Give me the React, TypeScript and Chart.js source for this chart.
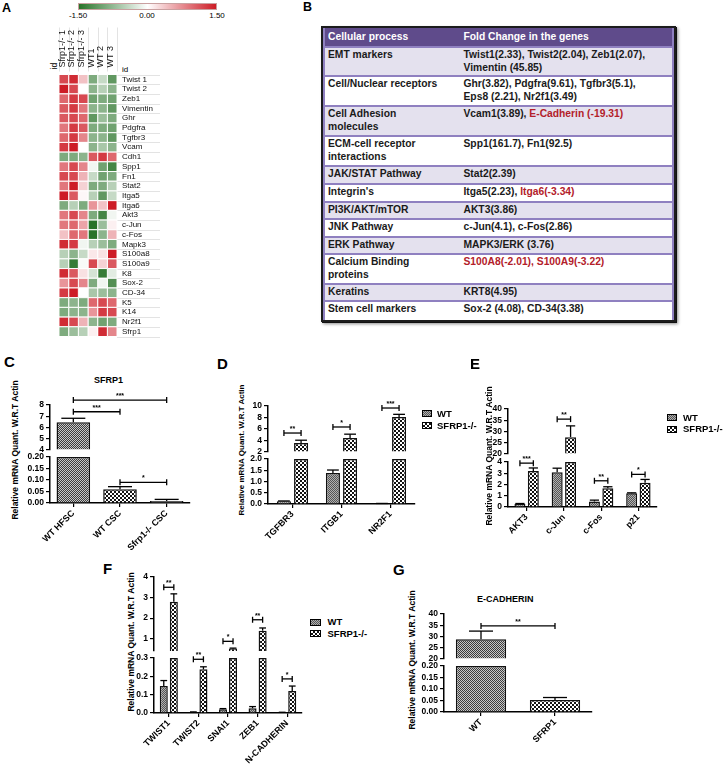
import React, { useEffect, useRef } from 'react';
import { Chart, registerables } from 'chart.js';

Chart.register(...registerables);

const FONT = '"Liberation Sans", Arial, Helvetica, sans-serif';
Chart.defaults.font.family = FONT;
Chart.defaults.color = '#000';

// ---------------- Panel A: heatmap ----------------
const genes = ['Twist 1', 'Twist 2', 'Zeb1', 'Vimentin', 'Ghr', 'Pdgfra', 'Tgfbr3', 'Vcam', 'Cdh1', 'Spp1', 'Fn1', 'Stat2', 'Itga5', 'Itga6', 'Akt3', 'c-Jun', 'c-Fos', 'Mapk3', 'S100a8', 'S100a9', 'K8', 'Sox-2', 'CD-34', 'K5', 'K14', 'Nr2f1', 'Sfrp1'];
const samples = ['Sfrp1-/- 1', 'Sfrp1-/- 2', 'Sfrp1-/- 3', 'WT1', 'WT 2', 'WT 3'];
const ko1 = [1.2, 1.5, 1.0, 1.1, 1.1, 0.9, 1.0, 1.3, -0.9, 0.9, 1.2, 0.9, 1.5, -0.9, 0.9, 0.9, 0.4, 1.4, -0.5, -0.5, 1.4, 0.7, 1.3, -0.9, -0.9, 1.4, -0.9];
const ko2 = [1.4, 1.2, 1.3, 1.3, 1.2, 1.3, 1.3, 1.5, -0.9, 1.2, 1.2, 1.5, 1.1, -0.5, 1.2, 1.0, 1.0, 1.3, -0.8, -1.4, 1.1, 1.2, 1.5, -0.8, -0.8, 1.2, -0.7];
const ko3 = [0.4, 0.0, 1.2, 0.9, 1.0, 1.1, 0.8, 0.0, -0.8, 0.8, 0.5, 0.3, 0.05, -0.9, 0.8, 0.6, 0.9, -0.1, -0.4, -0.05, 0.2, 0.8, 0.0, -0.9, -0.8, 0.5, -0.5];
const wt1 = [-0.9, -0.8, -1.0, -0.8, -1.1, -0.9, -0.8, -0.8, 1.1, -0.1, -0.4, -0.9, -0.5, 0.7, -0.9, -1.5, -1.5, -0.5, 0.15, 1.2, -0.3, -0.9, -0.6, 1.0, 0.7, -0.8, 0.1];
const wt2 = [-0.4, -0.5, -0.9, -0.8, -0.7, -0.9, -0.8, -0.6, 1.3, -1.0, -1.0, -0.9, -1.1, 0.4, -1.3, -0.7, -0.8, -0.7, 0.2, 0.3, -1.4, -0.1, -0.7, 1.2, 1.3, -1.0, 1.4];
const wt3 = [-1.1, -0.8, -1.0, -1.1, -0.9, -1.0, -1.1, -0.8, 1.0, -1.3, -0.9, -0.5, -0.4, 1.5, -0.1, 0.1, 0.5, -0.9, 1.5, 1.1, -0.2, -1.2, -0.8, 1.0, 1.2, -0.9, 0.8];
const heatColumns = [ko1, ko2, ko3, wt1, wt2, wt3];
const colorMax = 1.5;
const colorbarLabels = ['-1.50', '0.00', '1.50'];

// ---------------- Panel B: table ----------------
const tableHeader = ['Cellular process', 'Fold Change in the genes'];
const tableProcesses = ['EMT markers', 'Cell/Nuclear receptors', 'Cell Adhesion\nmolecules', 'ECM-cell receptor\ninteractions', 'JAK/STAT Pathway', "Integrin's", 'PI3K/AKT/mTOR', 'JNK Pathway', 'ERK Pathway', 'Calcium Binding\nproteins', 'Keratins', 'Stem cell markers'];
const tableChanges: [string, boolean][][] = [
  [['Twist1(2.33), Twist2(2.04), Zeb1(2.07),\nVimentin (45.85)', false]],
  [['Ghr(3.82), Pdgfra(9.61), Tgfbr3(5.1),\nEps8 (2.21), Nr2f1(3.49)', false]],
  [['Vcam1(3.89), ', false], ['E-Cadherin (-19.31)', true]],
  [['Spp1(161.7), Fn1(92.5)', false]],
  [['Stat2(2.39)', false]],
  [['Itga5(2.23), ', false], ['Itga6(-3.34)', true]],
  [['AKT3(3.86)', false]],
  [['c-Jun(4.1), c-Fos(2.86)', false]],
  [['MAPK3/ERK (3.76)', false]],
  [['S100A8(-2.01), S100A9(-3.22)', true]],
  [['KRT8(4.95)', false]],
  [['Sox-2 (4.08), CD-34(3.38)', false]],
];
const tableRowHeights = [19.7, 29.3, 30, 30, 30, 18, 17.7, 17.3, 17.7, 17.3, 30, 17, 17.3];

// ---------------- Panel C ----------------
const cCategories = ['WT HFSC', 'WT CSC', 'Sfrp1-/- CSC'];
const cValues = [6.46, 0.06, 0.0087];
const cErrors = [0.36, 0.011, 0.007];
const cTopTicks = [4, 5, 6, 7, 8];
const cBottomTicks = [0, 0.05, 0.1, 0.15, 0.2];

// ---------------- Panel D ----------------
const dGenes = ['TGFBR3', 'ITGB1', 'NR2F1'];
const dWT = [0.12, 1.38, 0.02];
const dWTErr = [0.015, 0.13, 0.005];
const dKO = [3.55, 4.45, 8.1];
const dKOErr = [0.5, 0.65, 0.45];
const dTopTicks = [2, 4, 6, 8, 10];
const dBottomTicks = [0, 0.5, 1, 1.5, 2];

// ---------------- Panel E ----------------
const eGenes = ['AKT3', 'c-Jun', 'c-Fos', 'p21'];
const eWT = [0.26, 3.1, 0.49, 1.23];
const eWTErr = [0.05, 0.35, 0.12, 0.03];
const eKO = [3.2, 27.5, 1.67, 2.16];
const eKOErr = [0.27, 5.0, 0.13, 0.29];
const eTopTicks = [20, 25, 30, 35, 40];
const eBottomTicks = [0, 1, 2, 3, 4];

// ---------------- Panel F ----------------
const fGenes = ['TWIST1', 'TWIST2', 'SNAI1', 'ZEB1', 'N-CADHERIN'];
const fWT = [0.147, 0.004, 0.02, 0.026, 0.003];
const fWTErr = [0.03, 0.002, 0.004, 0.009, 0.001];
const fKO = [2.8, 0.238, 0.52, 1.39, 0.12];
const fKOErr = [0.38, 0.014, 0.02, 0.13, 0.027];
const fTopTicks = [1, 2, 3, 4];
const fBottomTicks = [0, 0.1, 0.2, 0.3];

// ---------------- Panel G ----------------
const gGroups = ['WT', 'SFRP1'];
const gValues = [28.8, 0.052];
const gErrors = [3.6, 0.011];
const gTopTicks = [20, 25, 30, 35, 40];
const gBottomTicks = [0, 0.05, 0.1, 0.15, 0.2];

// ---------------- helpers ----------------
function heatColor(v: number) {
  const t = Math.max(-1, Math.min(1, v / colorMax));
  const end = t < 0 ? [40, 115, 40] : [205, 28, 38];
  const a = Math.abs(t);
  const c = end.map((e) => Math.round(255 + (e - 255) * a));
  return `rgb(${c[0]},${c[1]},${c[2]})`;
}

type Pats = { fine: CanvasPattern; medium: CanvasPattern; wt: CanvasPattern; ko: CanvasPattern };
let patCache: Pats | null = null;
function checker(cell: number, dark: string, light: string) {
  const c = document.createElement('canvas');
  c.width = c.height = cell * 2;
  const x = c.getContext('2d')!;
  x.fillStyle = light;
  x.fillRect(0, 0, cell * 2, cell * 2);
  x.fillStyle = dark;
  x.fillRect(0, 0, cell, cell);
  x.fillRect(cell, cell, cell, cell);
  return x.createPattern(c, 'repeat')!;
}
function getPatterns(): Pats {
  if (!patCache) {
    patCache = {
      fine: checker(1, '#3c3c3c', '#c8c8c8'),
      medium: checker(2, '#151515', '#ffffff'),
      wt: checker(1, '#555555', '#b0b0b0'),
      ko: checker(2, '#111111', '#ffffff'),
    };
  }
  return patCache;
}

type Seg = { min: number; max: number; ticks: number[]; dec: number; weight: number };
type Series = { label: string; values: number[]; errors: number[]; fill: (p: Pats) => any };
type Bracket = { a: [number, number]; b: [number, number]; y: number; label: string };
type Panel = {
  categories: string[];
  series: Series[];
  top: Seg;
  bot: Seg;
  gap: number;
  pad: { left: number; top: number; right: number; bottom: number };
  yW: number;
  xH: number;
  catPct: number;
  barPct: number;
  brackets: Bracket[];
};

function buildBroken(canvas: HTMLCanvasElement, p: Panel) {
  const P = getPatterns();
  const datasets: any[] = [];
  p.series.forEach((s, si) => {
    const common = {
      label: s.label,
      stack: 's' + si,
      backgroundColor: s.fill(P),
      borderColor: '#111',
      borderWidth: 1.5,
      categoryPercentage: p.catPct,
      barPercentage: p.barPct,
    };
    datasets.push({ ...common, data: s.values.map((v) => (v > p.top.min ? v : null)), yAxisID: 'yTop', base: p.top.min });
    datasets.push({ ...common, data: s.values.map((v) => Math.min(v, p.bot.max)), yAxisID: 'yBot' });
  });

  const tickFont = { size: 8.5, weight: 'bold' as const };
  const yScale = (seg: Seg, w: number) => ({
    type: 'linear',
    position: 'left',
    stack: 'ystack',
    stackWeight: seg.weight,
    weight: w,
    min: seg.min,
    max: seg.max,
    stacked: false,
    afterBuildTicks: (sc: any) => {
      sc.ticks = seg.ticks.map((v) => ({ value: v }));
    },
    afterFit: (sc: any) => {
      sc.width = p.yW;
    },
    ticks: { font: tickFont, color: '#000', padding: 2, autoSkip: false, callback: (v: any) => Number(v).toFixed(seg.dec) },
    grid: { drawOnChartArea: false, drawTicks: true, tickLength: 4, color: '#000', lineWidth: 1.2 },
    border: { display: true, color: '#000', width: 1.5 },
  });

  const annot = {
    id: 'annot',
    afterDatasetsDraw(chart: any) {
      const ctx = chart.ctx as CanvasRenderingContext2D;
      const yT = chart.scales.yTop;
      const yB = chart.scales.yBot;
      const pick = (v: number) => (v > p.top.min ? yT : yB);
      const line = (x1: number, y1: number, x2: number, y2: number) => {
        ctx.beginPath();
        ctx.moveTo(x1, y1);
        ctx.lineTo(x2, y2);
        ctx.stroke();
      };
      ctx.save();
      ctx.strokeStyle = '#000';
      ctx.lineWidth = 1.3;
      p.series.forEach((s, si) => {
        const meta = chart.getDatasetMeta(si * 2 + 1);
        s.values.forEach((v, i) => {
          const e = s.errors[i];
          const bar = meta.data[i];
          if (!bar || !e) return;
          const sc = pick(v);
          const y0 = sc.getPixelForValue(v);
          const y1 = sc.getPixelForValue(v + e);
          const half = Math.min(bar.width * 0.42, 12);
          line(bar.x, y0, bar.x, y1);
          line(bar.x - half, y1, bar.x + half, y1);
        });
      });
      ctx.fillStyle = '#000';
      ctx.font = `bold 7px ${FONT}`;
      ctx.textAlign = 'center';
      ctx.textBaseline = 'bottom';
      p.brackets.forEach((b) => {
        const ba = chart.getDatasetMeta(b.a[1] * 2 + 1).data[b.a[0]];
        const bb = chart.getDatasetMeta(b.b[1] * 2 + 1).data[b.b[0]];
        const sc = pick(b.y);
        const y = sc.getPixelForValue(b.y);
        line(ba.x, y, bb.x, y);
        line(ba.x, y - 3, ba.x, y + 3);
        line(bb.x, y - 3, bb.x, y + 3);
        ctx.fillText(b.label, (ba.x + bb.x) / 2, y - 0.5);
      });
      ctx.restore();
    },
  };

  return new Chart(canvas, {
    type: 'bar',
    data: { labels: p.categories, datasets },
    plugins: [annot],
    options: {
      responsive: false,
      animation: false,
      events: [],
      layout: { padding: p.pad },
      plugins: { legend: { display: false }, tooltip: { enabled: false } },
      scales: {
        x: {
          type: 'category',
          position: 'bottom',
          offset: true,
          grid: { offset: false, drawOnChartArea: false, drawTicks: true, tickLength: 4, color: '#000', lineWidth: 1.2 },
          border: { display: true, color: '#000', width: 1.5 },
          ticks: { font: { size: 9, weight: 'bold' }, color: '#000', minRotation: 45, maxRotation: 45, autoSkip: false, padding: 1 },
          afterFit: (sc: any) => {
            sc.height = p.xH;
          },
        },
        yBot: yScale(p.bot, 1),
        yGap: {
          type: 'linear',
          position: 'left',
          stack: 'ystack',
          stackWeight: p.gap,
          weight: 2,
          min: 0,
          max: 1,
          ticks: { display: false },
          grid: { display: false, drawTicks: false },
          border: { display: false },
          afterFit: (sc: any) => {
            sc.width = p.yW;
          },
        },
        yTop: yScale(p.top, 3),
      } as any,
    },
  } as any);
}

function buildHeatmap(canvas: HTMLCanvasElement) {
  const guides = {
    id: 'guides',
    beforeDatasetsDraw(chart: any) {
      const { ctx, chartArea: ca } = chart;
      const xs = chart.scales.x;
      const cw = (ca.right - ca.left) / samples.length;
      const rh = (ca.bottom - ca.top) / genes.length;
      ctx.save();
      ctx.strokeStyle = '#e3e3e3';
      ctx.lineWidth = 1;
      for (let j = 0; j <= samples.length; j++) {
        const px = Math.round(ca.left + j * cw) + 0.5;
        ctx.beginPath();
        ctx.moveTo(px, ca.top - 47);
        ctx.lineTo(px, ca.top - 3);
        ctx.stroke();
      }
      for (let i = 0; i <= genes.length; i++) {
        const py = Math.round(ca.top + i * rh) + 0.5;
        ctx.beginPath();
        ctx.moveTo(ca.right, py);
        ctx.lineTo(ca.right + 43, py);
        ctx.stroke();
      }
      // column headers (vertical, reading upward) placed on the x scale
      ctx.fillStyle = '#111';
      ctx.font = `9px ${FONT}`;
      ctx.textAlign = 'left';
      ctx.textBaseline = 'middle';
      samples.forEach((s, j) => {
        const x = xs.getPixelForValue(j) - 1.5;
        ctx.save();
        ctx.translate(x, ca.top - 7);
        ctx.rotate(-Math.PI / 2);
        ctx.fillText(s, 0, 0);
        ctx.restore();
      });
      ctx.restore();
    },
  };
  const radius = (c: any) => {
    const ca = c.chart.chartArea;
    if (!ca) return 6;
    return ((ca.bottom - ca.top) / genes.length / 2) * Math.SQRT2;
  };
  const datasets = samples.map((s, j) => ({
    label: s,
    data: genes.map((g, i) => ({ x: s, y: g, v: heatColumns[j][i] })),
    backgroundColor: (c: any) => heatColor(c.raw ? c.raw.v : 0),
    borderColor: '#ffffff',
    borderWidth: 1,
    pointStyle: 'rect',
    pointRadius: radius,
    pointHoverRadius: radius,
    clip: false,
  }));
  return new Chart(canvas, {
    type: 'scatter',
    data: { datasets },
    plugins: [guides],
    options: {
      responsive: false,
      animation: false,
      events: [],
      layout: { padding: { left: 9, top: 6.5, right: 8, bottom: 10.5 } },
      plugins: { legend: { display: false }, tooltip: { enabled: false } },
      scales: {
        x: {
          type: 'category',
          labels: samples,
          position: 'top',
          offset: true,
          grid: { display: false, drawTicks: false },
          border: { display: false },
          ticks: { display: false },
          afterFit: (sc: any) => {
            sc.height = 48;
            sc.paddingLeft = 0;
            sc.paddingRight = 0;
          },
        },
        y: {
          type: 'category',
          labels: genes,
          position: 'right',
          offset: true,
          grid: { display: false, drawTicks: false },
          border: { display: false },
          ticks: { font: { size: 8 }, color: '#111', padding: 5, autoSkip: false },
          afterFit: (sc: any) => {
            sc.width = 50;
            sc.paddingTop = 0;
            sc.paddingBottom = 0;
          },
        },
      } as any,
    },
  } as any);
}

// ---------------- panel configs ----------------
const panelC: Panel = {
  categories: cCategories,
  series: [{ label: 'SFRP1', values: cValues, errors: cErrors, fill: (P) => [P.fine, P.medium, '#8a8a8a'] }],
  top: { min: 4, max: 8, ticks: cTopTicks, dec: 0, weight: 45 },
  bot: { min: 0, max: 0.2, ticks: cBottomTicks, dec: 2, weight: 46 },
  gap: 7,
  pad: { left: 2, top: 20, right: 10, bottom: 2 },
  yW: 28,
  xH: 50,
  catPct: 0.72,
  barPct: 1,
  brackets: [
    { a: [0, 0], b: [2, 0], y: 8.44, label: '***' },
    { a: [0, 0], b: [1, 0], y: 7.4, label: '***' },
    { a: [1, 0], b: [2, 0], y: 0.09, label: '*' },
  ],
};

const panelD: Panel = {
  categories: dGenes,
  series: [
    { label: 'WT', values: dWT, errors: dWTErr, fill: (P) => P.wt },
    { label: 'SFRP1-/-', values: dKO, errors: dKOErr, fill: (P) => P.ko },
  ],
  top: { min: 2, max: 10, ticks: dTopTicks, dec: 0, weight: 46 },
  bot: { min: 0, max: 2, ticks: dBottomTicks, dec: 1, weight: 45 },
  gap: 7,
  pad: { left: 2, top: 12, right: 8, bottom: 2 },
  yW: 28,
  xH: 42,
  catPct: 0.7,
  barPct: 0.82,
  brackets: [
    { a: [0, 0], b: [0, 1], y: 5.3, label: '**' },
    { a: [1, 0], b: [1, 1], y: 6.35, label: '*' },
    { a: [2, 0], b: [2, 1], y: 9.65, label: '***' },
  ],
};

const panelE: Panel = {
  categories: eGenes,
  series: [
    { label: 'WT', values: eWT, errors: eWTErr, fill: (P) => P.wt },
    { label: 'SFRP1-/-', values: eKO, errors: eKOErr, fill: (P) => P.ko },
  ],
  top: { min: 20, max: 40, ticks: eTopTicks, dec: 0, weight: 45 },
  bot: { min: 0, max: 4, ticks: eBottomTicks, dec: 0, weight: 45 },
  gap: 8,
  pad: { left: 2, top: 12, right: 8, bottom: 2 },
  yW: 28,
  xH: 42,
  catPct: 0.72,
  barPct: 0.82,
  brackets: [
    { a: [0, 0], b: [0, 1], y: 3.9, label: '***' },
    { a: [1, 0], b: [1, 1], y: 35.5, label: '**' },
    { a: [2, 0], b: [2, 1], y: 2.33, label: '**' },
    { a: [3, 0], b: [3, 1], y: 2.9, label: '*' },
  ],
};

const panelF: Panel = {
  categories: fGenes,
  series: [
    { label: 'WT', values: fWT, errors: fWTErr, fill: (P) => P.wt },
    { label: 'SFRP1-/-', values: fKO, errors: fKOErr, fill: (P) => P.ko },
  ],
  top: { min: 0.4, max: 4, ticks: fTopTicks, dec: 0, weight: 74 },
  bot: { min: 0, max: 0.3, ticks: fBottomTicks, dec: 1, weight: 55 },
  gap: 7,
  pad: { left: 2, top: 12, right: 8, bottom: 2 },
  yW: 28,
  xH: 52,
  catPct: 0.68,
  barPct: 0.8,
  brackets: [
    { a: [0, 0], b: [0, 1], y: 3.5, label: '**' },
    { a: [1, 0], b: [1, 1], y: 0.293, label: '**' },
    { a: [2, 0], b: [2, 1], y: 0.87, label: '*' },
    { a: [3, 0], b: [3, 1], y: 1.92, label: '**' },
    { a: [4, 0], b: [4, 1], y: 0.186, label: '*' },
  ],
};

const panelG: Panel = {
  categories: gGroups,
  series: [{ label: 'E-CADHERIN', values: gValues, errors: gErrors, fill: (P) => [P.fine, P.medium] }],
  top: { min: 20, max: 40, ticks: gTopTicks, dec: 0, weight: 45 },
  bot: { min: 0, max: 0.2, ticks: gBottomTicks, dec: 2, weight: 46 },
  gap: 7,
  pad: { left: 2, top: 12, right: 8, bottom: 2 },
  yW: 28,
  xH: 36,
  catPct: 0.68,
  barPct: 1,
  brackets: [{ a: [0, 0], b: [1, 0], y: 34.7, label: '**' }],
};

// ---------------- components ----------------
function ChartBox({ left, top, width, height, build }: { left: number; top: number; width: number; height: number; build: (c: HTMLCanvasElement) => Chart }) {
  const ref = useRef<HTMLCanvasElement>(null);
  useEffect(() => {
    const chart = build(ref.current!);
    return () => chart.destroy();
  }, []);
  return <canvas ref={ref} width={width} height={height} style={{ position: 'absolute', left, top, width, height }} />;
}

const base: React.CSSProperties = { position: 'absolute', fontFamily: FONT, lineHeight: 1, whiteSpace: 'nowrap', margin: 0, color: '#000' };

function Letter({ x, capTop, size, children }: any) {
  return <div style={{ ...base, left: x, top: capTop - 0.13 * size, fontSize: size, fontWeight: 'bold' }}>{children}</div>;
}
function CenterText({ cx, capTop, size, bold = true, children }: any) {
  return <div style={{ ...base, left: cx, top: capTop - 0.13 * size, fontSize: size, fontWeight: bold ? 'bold' : 'normal', transform: 'translateX(-50%)' }}>{children}</div>;
}
function VText({ cx, cy, size, bold = true, children }: any) {
  return <div style={{ ...base, left: cx, top: cy, fontSize: size, fontWeight: bold ? 'bold' : 'normal', transform: 'translate(-50%,-50%) rotate(-90deg)' }}>{children}</div>;
}

const swatchBg: Record<string, string> = {
  wt: 'repeating-conic-gradient(#555 0 25%, #b0b0b0 0 50%) 0 0 / 2px 2px',
  ko: 'repeating-conic-gradient(#111 0 25%, #fff 0 50%) 0 0 / 4px 4px',
};
function Legend({ x, tx, y1, y2, w = 10 }: any) {
  const items: [string, string, number][] = [
    ['WT', 'wt', y1],
    ['SFRP1-/-', 'ko', y2],
  ];
  return (
    <>
      {items.map(([label, key, cy]) => (
        <React.Fragment key={label}>
          <div style={{ position: 'absolute', left: x, top: cy - 3.5, width: w, height: 7, boxSizing: 'border-box', border: '1px solid #000', background: swatchBg[key] }} />
          <div style={{ ...base, left: tx, top: cy - 0.488 * 9.5, fontSize: 9.5, fontWeight: 'bold' }}>{label}</div>
        </React.Fragment>
      ))}
    </>
  );
}

function Table() {
  const purple = '#5f4b8b';
  const sep = '#8f80c0';
  const rows = [{ c1: tableHeader[0], c2: [[tableHeader[1], false]] as [string, boolean][], header: true }].concat(
    tableProcesses.map((c1, i) => ({ c1, c2: tableChanges[i], header: false }))
  );
  return (
    <div style={{ position: 'absolute', left: 321, top: 26, width: 355, height: 296, boxSizing: 'border-box', border: '2px solid #1c1c1c', boxShadow: '1px 1px 0 #111, 2px 2px 3px rgba(0,0,0,0.45)', background: '#fff' }}>
      <div style={{ position: 'absolute', left: 0, top: 0, right: 0, bottom: 0, borderLeft: `2px solid ${sep}`, borderRight: `2px solid ${sep}` }}>
        {rows.map((r, i) => {
          const shaded = !r.header && i % 2 === 1;
          return (
            <div
              key={i}
              style={{
                display: 'flex',
                height: tableRowHeights[i],
                boxSizing: 'border-box',
                borderBottom: i < rows.length - 1 ? `2px solid ${sep}` : 'none',
                background: r.header ? purple : shaded ? '#e4e1ee' : '#fff',
                color: r.header ? '#fff' : '#1a1a1a',
                fontFamily: FONT,
                fontWeight: 'bold',
                fontSize: 10.3,
                lineHeight: '12.7px',
                paddingTop: r.header ? 3 : 1.5,
              }}
            >
              <div style={{ width: 138, paddingLeft: 3, boxSizing: 'border-box', whiteSpace: 'pre' }}>{r.c1}</div>
              <div style={{ paddingLeft: 0.5, whiteSpace: 'pre' }}>
                {r.c2.map(([t, red], k) => (
                  <span key={k} style={{ color: red ? '#b3202a' : undefined }}>
                    {t}
                  </span>
                ))}
              </div>
            </div>
          );
        })}
      </div>
    </div>
  );
}

export default function App() {
  return (
    <div style={{ position: 'absolute', left: 0, top: 0, width: 724, height: 768, background: '#fff', overflow: 'hidden', fontFamily: FONT }}>
      {/* Panel A */}
      <Letter x={2} capTop={4} size={12.5}>A</Letter>
      <div style={{ position: 'absolute', left: 78, top: 3, width: 139, height: 7, boxSizing: 'border-box', border: '1px solid #c9a0a0', background: `linear-gradient(to right, ${heatColor(-colorMax)}, #ffffff, ${heatColor(colorMax)})` }} />
      <CenterText cx={78} capTop={13} size={8} bold={false}>{colorbarLabels[0]}</CenterText>
      <CenterText cx={147} capTop={13} size={8} bold={false}>{colorbarLabels[1]}</CenterText>
      <CenterText cx={217} capTop={13} size={8} bold={false}>{colorbarLabels[2]}</CenterText>
      <VText cx={54} cy={66} size={8.5} bold={false}>id</VText>
      <div style={{ ...base, left: 122, top: 66, fontSize: 8 }}>id</div>
      <ChartBox left={50} top={20} width={125} height={327} build={buildHeatmap} />

      {/* Panel B */}
      <Letter x={303} capTop={3} size={12.5}>B</Letter>
      <Table />

      {/* Panel C */}
      <Letter x={4} capTop={356} size={15}>C</Letter>
      <CenterText cx={108.5} capTop={377} size={9}>SFRP1</CenterText>
      <VText cx={15} cy={450} size={8.5}>Relative mRNA Quant. W.R.T Actin</VText>
      <ChartBox left={20} top={385} width={180} height={170} build={(c) => buildBroken(c, panelC)} />

      {/* Panel D */}
      <Letter x={217} capTop={358} size={15}>D</Letter>
      <VText cx={242} cy={449.5} size={8}>Relative mRNA Quant. W.R.T Actin</VText>
      <ChartBox left={238} top={394} width={185} height={154} build={(c) => buildBroken(c, panelD)} />
      <Legend x={422} tx={437} y1={413.7} y2={425.3} />

      {/* Panel E */}
      <Letter x={470} capTop={358} size={15}>E</Letter>
      <VText cx={489} cy={456} size={8.5}>Relative mRNA Quant. W.R.T Actin</VText>
      <ChartBox left={478} top={397} width={187} height={154} build={(c) => buildBroken(c, panelE)} />
      <Legend x={667} tx={683} y1={417.3} y2={429} />

      {/* Panel F */}
      <Letter x={103} capTop={563} size={15}>F</Letter>
      <VText cx={131} cy={642} size={8.5}>Relative mRNA Quant. W.R.T Actin</VText>
      <ChartBox left={124} top={565} width={186} height={202} build={(c) => buildBroken(c, panelF)} />
      <Legend x={310} tx={327.5} y1={622} y2={633.7} w={11} />

      {/* Panel G */}
      <Letter x={393} capTop={564} size={15}>G</Letter>
      <CenterText cx={505.3} capTop={595.8} size={9}>E-CADHERIN</CenterText>
      <VText cx={412} cy={660} size={8.5}>Relative mRNA Quant. W.R.T Actin</VText>
      <ChartBox left={414} top={602} width={186} height={148} build={(c) => buildBroken(c, panelG)} />
    </div>
  );
}
